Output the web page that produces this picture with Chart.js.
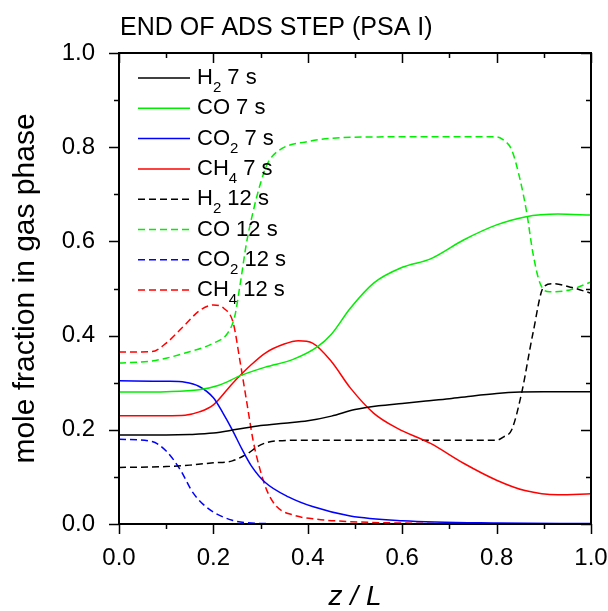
<!DOCTYPE html>
<html>
<head>
<meta charset="utf-8">
<script src="https://cdn.jsdelivr.net/npm/chart.js@4"></script>
<style>
  html, body { margin: 0; padding: 0; background: #fff; }
  #wrap { width: 608px; height: 611px; }
</style>
</head>
<body>
<div id="wrap"><canvas id="chart" width="608" height="611"></canvas></div>
<script>
// Perfis axiais (z/L, fração molar)
const h2_7s = [[0,0.189],[0.1,0.189],[0.15,0.190],[0.2,0.193],[0.25,0.201],[0.3,0.209],[0.35,0.214],[0.4,0.219],[0.45,0.229],[0.5,0.243],[0.55,0.251],[0.6,0.256],[0.65,0.261],[0.7,0.266],[0.75,0.272],[0.8,0.277],[0.85,0.280],[0.9,0.281],[1.0,0.281]];
const co_7s = [[0,0.280],[0.1,0.281],[0.17,0.285],[0.21,0.294],[0.26,0.316],[0.31,0.333],[0.37,0.350],[0.42,0.376],[0.45,0.403],[0.49,0.458],[0.54,0.512],[0.6,0.545],[0.66,0.563],[0.73,0.603],[0.8,0.635],[0.86,0.652],[0.93,0.658],[1.0,0.656]];
const co2_7s = [[0,0.304],[0.1,0.303],[0.14,0.301],[0.17,0.292],[0.2,0.268],[0.22,0.236],[0.24,0.2],[0.26,0.16],[0.28,0.124],[0.31,0.088],[0.36,0.057],[0.41,0.037],[0.49,0.017],[0.6,0.007],[0.8,0.002],[1.0,0.001]];
const ch4_7s = [[0,0.230],[0.1,0.230],[0.14,0.231],[0.17,0.238],[0.2,0.253],[0.24,0.298],[0.28,0.338],[0.31,0.363],[0.35,0.382],[0.38,0.389],[0.41,0.384],[0.45,0.345],[0.49,0.289],[0.54,0.235],[0.59,0.203],[0.66,0.171],[0.73,0.129],[0.8,0.093],[0.86,0.071],[0.93,0.062],[1.0,0.064]];
const h2_12s = [[0,0.120],[0.1,0.122],[0.15,0.125],[0.2,0.130],[0.24,0.134],[0.27,0.148],[0.3,0.168],[0.33,0.176],[0.4,0.178],[0.6,0.178],[0.8,0.178],[0.815,0.185],[0.832,0.2],[0.853,0.278],[0.877,0.405],[0.9,0.504],[0.92,0.51],[0.96,0.502],[1.0,0.49]];
const co_12s = [[0,0.342],[0.07,0.346],[0.14,0.363],[0.2,0.384],[0.23,0.405],[0.245,0.44],[0.257,0.511],[0.27,0.596],[0.285,0.667],[0.3,0.724],[0.315,0.766],[0.34,0.794],[0.4,0.812],[0.49,0.821],[0.6,0.822],[0.8,0.822],[0.815,0.815],[0.832,0.794],[0.85,0.73],[0.864,0.66],[0.877,0.575],[0.892,0.511],[0.913,0.493],[0.955,0.497],[1.0,0.514]];
const co2_12s = [[0,0.180],[0.07,0.175],[0.1,0.155],[0.13,0.115],[0.157,0.066],[0.193,0.030],[0.24,0.008],[0.28,0.002],[0.4,0],[1.0,0]];
const ch4_12s = [[0,0.365],[0.07,0.366],[0.1,0.384],[0.136,0.419],[0.172,0.454],[0.2,0.465],[0.222,0.458],[0.242,0.427],[0.256,0.348],[0.27,0.263],[0.284,0.178],[0.299,0.115],[0.313,0.072],[0.334,0.037],[0.369,0.019],[0.42,0.01],[0.49,0.005],[0.6,0.002],[1.0,0]];

const labels = ['H_2 7 s', 'CO 7 s', 'CO_2 7 s', 'CH_4 7 s', 'H_2 12 s', 'CO 12 s', 'CO_2 12 s', 'CH_4 12 s'];
const tickValues = [0, 0.2, 0.4, 0.6, 0.8, 1.0];

const FONT = 'Liberation Sans, Arial, sans-serif';
const BLACK = '#000000', GREEN = '#00ee00', BLUE = '#0000ff', RED = '#ff0000';
const DASH = [7, 4];

function serie(label, pts, color, dashed) {
    return {
        label: label,
        data: pts.map(p => ({ x: p[0], y: p[1] })),
        borderColor: color,
        backgroundColor: color,
        borderWidth: 1.5,
        borderDash: dashed ? DASH : [],
        pointRadius: 0,
        cubicInterpolationMode: 'monotone',
        fill: false
    };
}

// moldura, ticks nos quatro lados, título e legenda
const framePlugin = {
    id: 'frame',
    afterDraw(chart) {
        const ctx = chart.ctx;
        const a = chart.chartArea;
        const xs = chart.scales.x, ys = chart.scales.y;
        ctx.save();
        ctx.strokeStyle = '#000';
        ctx.lineWidth = 2;
        ctx.setLineDash([]);
        ctx.strokeRect(a.left, a.top, a.right - a.left, a.bottom - a.top);
        ctx.lineWidth = 1.5;
        for (let i = 0; i <= 10; i++) {
            const v = i / 10;
            const len = (i % 2 === 0) ? 10 : 5;
            const px = Math.round(xs.getPixelForValue(v)) + 0.5;
            const py = Math.round(ys.getPixelForValue(v)) + 0.5;
            ctx.beginPath();
            ctx.moveTo(px, a.bottom); ctx.lineTo(px, a.bottom + len);
            ctx.moveTo(px, a.top); ctx.lineTo(px, a.top + len);
            ctx.moveTo(a.left, py); ctx.lineTo(a.left - len, py);
            ctx.moveTo(a.right, py); ctx.lineTo(a.right - len, py);
            ctx.stroke();
        }
        // título
        ctx.fillStyle = '#000';
        ctx.font = '25px ' + FONT;
        ctx.textBaseline = 'alphabetic';
        ctx.textAlign = 'left';
        ctx.fillText('END OF ADS STEP (PSA I)', 120, 35);

        // legenda
        const x0 = a.left + 19, x1 = a.left + 71, tx = a.left + 78;
        chart.data.datasets.forEach((ds, i) => {
            const y = 78 + i * 30.3;
            ctx.strokeStyle = ds.borderColor;
            ctx.lineWidth = 1.5;
            ctx.setLineDash(ds.borderDash);
            ctx.beginPath();
            ctx.moveTo(x0, y); ctx.lineTo(x1, y);
            ctx.stroke();
            ctx.setLineDash([]);
            ctx.fillStyle = '#000';
            ctx.textBaseline = 'middle';
            let cx = tx;
            const parts = ds.label.split('_');
            parts.forEach((part, k) => {
                let txt = part;
                if (k > 0) {
                    ctx.font = '15px ' + FONT;
                    ctx.fillText(part[0], cx, y + 10);
                    cx += ctx.measureText(part[0]).width;
                    txt = part.slice(1);
                }
                ctx.font = '22px ' + FONT;
                ctx.fillText(txt, cx, y);
                cx += ctx.measureText(txt).width;
            });
        });
        ctx.restore();
    }
};

const ctx = document.getElementById('chart').getContext('2d');
const chart = new Chart(ctx, {
    type: 'line',
    data: {
        datasets: [
            serie(labels[0], h2_7s, BLACK, false),
            serie(labels[1], co_7s, GREEN, false),
            serie(labels[2], co2_7s, BLUE, false),
            serie(labels[3], ch4_7s, RED, false),
            serie(labels[4], h2_12s, BLACK, true),
            serie(labels[5], co_12s, GREEN, true),
            serie(labels[6], co2_12s, BLUE, true),
            serie(labels[7], ch4_12s, RED, true)
        ]
    },
    options: {
        responsive: false,
        animation: false,
        layout: { padding: { top: 53, right: 0, left: 0, bottom: 0 } },
        plugins: {
            legend: { display: false },
            title: { display: false },
            tooltip: { enabled: false }
        },
        scales: {
            x: {
                type: 'linear',
                min: 0,
                max: 1,
                afterFit(scale) {
                    scale.height = 87;
                    scale.paddingLeft = 0;
                    scale.paddingRight = 17;
                },
                afterBuildTicks(scale) { scale.ticks = tickValues.map(v => ({ value: v })); },
                grid: { display: false },
                border: { display: false },
                ticks: {
                    padding: 12,
                    color: '#000',
                    font: { family: FONT, size: 24 },
                    callback: v => v.toFixed(1)
                },
                title: {
                    display: true,
                    text: 'z / L',
                    color: '#000',
                    font: { family: FONT, size: 28, style: 'italic', lineHeight: 1.0 },
                    padding: { top: 0, bottom: 0 }
                }
            },
            y: {
                type: 'linear',
                min: 0,
                max: 1,
                afterFit(scale) {
                    scale.width = 119;
                    scale.paddingTop = 0;
                    scale.paddingBottom = 0;
                },
                afterBuildTicks(scale) { scale.ticks = tickValues.map(v => ({ value: v })); },
                grid: { display: false },
                border: { display: false },
                ticks: {
                    padding: 16,
                    color: '#000',
                    font: { family: FONT, size: 24 },
                    callback: v => v.toFixed(1)
                },
                title: {
                    display: true,
                    text: 'mole fraction in gas phase',
                    color: '#000',
                    font: { family: FONT, size: 30 },
                    padding: { top: 8, bottom: 0 }
                }
            }
        }
    },
    plugins: [framePlugin]
});
</script>
</body>
</html>
